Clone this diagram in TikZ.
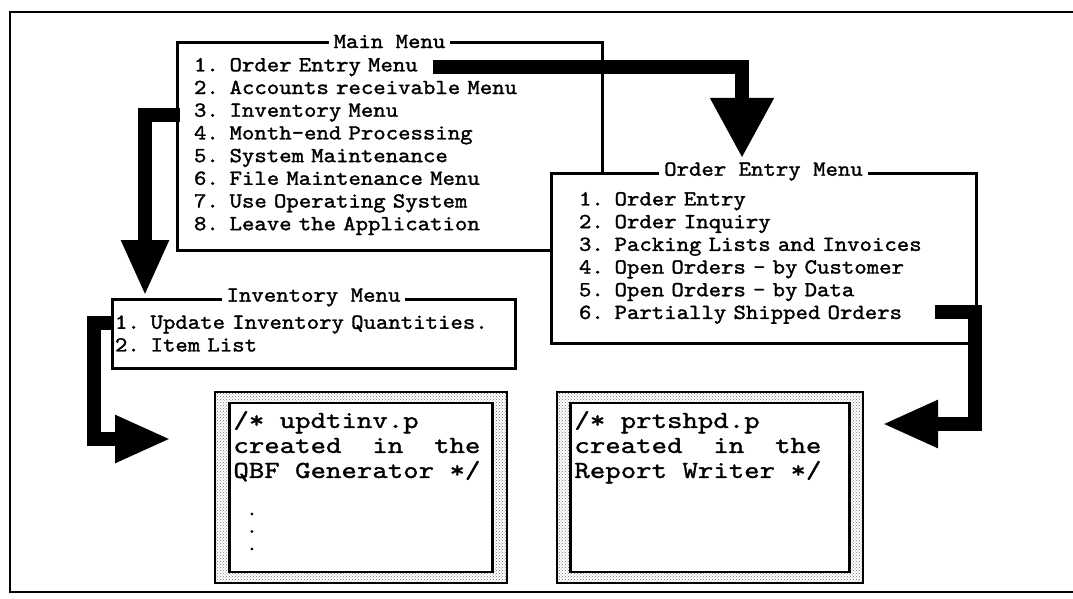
\documentclass[tikz,border=0pt]{standalone}
\usepackage{fontspec}
\usetikzlibrary{positioning,arrows.meta,patterns}

\newfontfamily\menufont{lmmono10-regular}[Extension=.otf,FakeStretch=1.1,FakeBold=1.4]
\newfontfamily\codefont{lmmono10-regular}[Extension=.otf,FakeStretch=1.2,FakeBold=1.2]
\newfontfamily\dotfont{lmmono10-regular}[Extension=.otf,FakeBold=4]
\newcommand{\menutext}{\menufont\fontsize{21.5}{22.7}\selectfont}
\newcommand{\codetext}{\codefont\fontsize{24.5}{25}\selectfont}
\newcommand{\dotstext}{\dotfont\fontsize{17}{17.5}\selectfont}

\tikzset{
  menubox/.style={draw, line width=3pt, fill=white, align=left, font=\menutext, inner ysep=0pt},
  menutitle/.style={fill=white, inner xsep=5pt, inner ysep=1pt, font=\menutext},
  codeframe/.style={draw, line width=1.2pt, pattern=crosshatch dots, pattern color=black!55},
  codebox/.style={draw, line width=2.5pt, fill=white},
  codetext/.style={align=left, inner sep=0pt, font=\codetext},
  bigarrow/.style={line width=14pt, -{Triangle[width=44pt,length=56pt]}},
}

\begin{document}
\begin{tikzpicture}[x=1pt, y=-1pt]
    \useasboundingbox (0,0) rectangle (1073,599);
    \draw[line width=2.5pt] (1073,12) -- (10,12) -- (10,592) -- (1073,592);

    % menus
    \node[menubox, minimum width=425pt, minimum height=207pt, text width=391pt, inner xsep=17pt]
        (mainmenu) at (389.5,146.5) {1. Order Entry Menu\\2. Accounts receivable Menu\\3. Inventory Menu\\4. Month-end Processing\\5. System Maintenance\\6. File Maintenance Menu\\7. Use Operating System\\8. Leave the Application};
    \node[menutitle] (maintitle) at (mainmenu.north) {Main Menu};
    \node[menubox, minimum width=425pt, minimum height=170pt, text width=369pt, inner xsep=28pt]
        (oemenu) at (763.5,258) {1. Order Entry\\2. Order Inquiry\\3. Packing Lists and Invoices\\4. Open Orders - by Customer\\5. Open Orders - by Data\\6. Partially Shipped Orders};
    \node[menutitle] (oetitle) at (oemenu.north) {Order Entry Menu};
    \node[menubox, minimum width=403pt, minimum height=69pt, text width=397pt, inner xsep=3pt]
        (invmenu) at (313.5,333.5) {1. Update Inventory Quantities.\\2. Item List};
    \node[menutitle] (invtitle) at (invmenu.north) {Inventory Menu};

    % procedures
    \node[codeframe, minimum width=292pt, minimum height=191pt] (updtframe) at (361,487.5) {};
    \node[codebox, minimum width=263pt, minimum height=169pt] (updtinv) at (updtframe.center) {};
    \node[codetext, below right=9pt and 5pt of updtinv.north west] (updttxt)
        {/* updtinv.p\\created~~in~~the\\QBF Generator */};
    \node[codetext, font=\dotstext, below right=111pt and 19pt of updtinv.north west] (updtdots)
        {.\\.\\.};
    \node[codeframe, minimum width=306pt, minimum height=191pt] (prtframe) at (710,487.5) {};
    \node[codebox, minimum width=279pt, minimum height=169pt] (prtshpd) at (prtframe.center) {};
    \node[codetext, below right=9pt and 5pt of prtshpd.north west] (prttxt)
        {/* prtshpd.p\\created~~in~~the\\Report Writer */};

    % menu choices
    \coordinate (oe-from) at (433,67);
    \coordinate (oe-tip) at (742,158);
    \coordinate (inv-from) at (180,115);
    \coordinate (inv-tip) at (145,296);
    \coordinate (upd-from) at (113,323);
    \coordinate (upd-tip) at (171,439);
    \coordinate (prt-from) at (935,312);
    \coordinate (prt-tip) at (882,424);
    \draw[bigarrow, -{Triangle[width=60pt,length=60pt]}] (oe-from) -| (oe-tip);
    \draw[bigarrow] (inv-from) -| (inv-tip);
    \draw[bigarrow] (upd-from) -- ++(-19,0) |- (upd-tip);
    \draw[bigarrow] (prt-from) -- ++(40,0) |- (prt-tip);
\end{tikzpicture}
\end{document}
